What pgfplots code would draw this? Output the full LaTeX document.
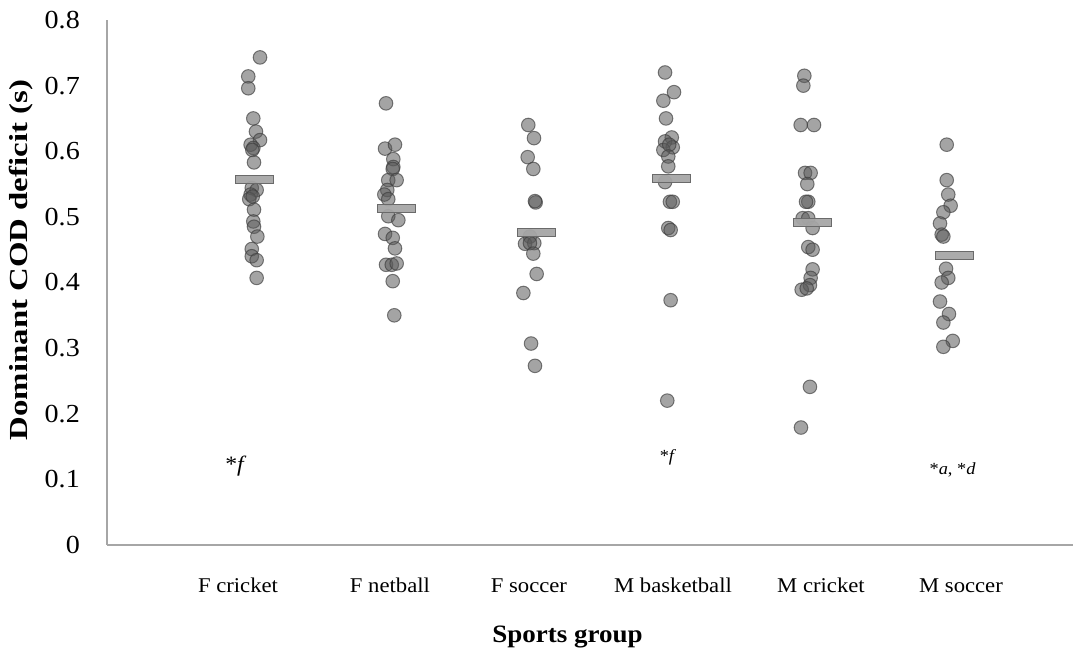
\documentclass[border=0pt]{standalone}
\usepackage{pgfplots}
\pgfplotsset{compat=1.18}
\usepackage{graphicx}
\usepackage{fontspec}
\setmainfont{Liberation Serif}[FakeStretch=1.08]
\definecolor{axgray}{HTML}{A6A6A6}
\definecolor{ptfill}{HTML}{5A5A5A}
\definecolor{ptdraw}{HTML}{3C3C3C}
\definecolor{barfill}{HTML}{A6A6A6}
\definecolor{bardraw}{HTML}{6A6A6A}
\pgfdeclareplotmark{meanbar}{%
  \pgfpathrectangle{\pgfpoint{-19bp}{-4bp}}{\pgfpoint{38bp}{8bp}}%
  \pgfusepathqfillstroke}
\begin{document}
\begin{tikzpicture}
\path[use as bounding box] (0,0) rectangle (1073bp,658bp);
\begin{axis}[
  at={(107bp,113bp)}, anchor=south west,
  width=966bp, height=525bp, scale only axis,
  xmin=-0.05, xmax=6.85, ymin=0, ymax=0.8,
  axis x line=bottom, axis y line=left,
  axis line style={axgray, line width=1.2bp, -},
  clip=false,
  xtick={0.886,1.971,2.964,3.993,5.05,6.05},
  xticklabels={F cricket,F netball,F soccer,M basketball,M cricket,M soccer},
  ytick={0,0.1,...,0.8},
  yticklabels={0,0.1,0.2,0.3,0.4,0.5,0.6,0.7,0.8},
  major tick length=0pt,
  xticklabel style={font=\fontsize{21bp}{24bp}\selectfont, anchor=base, yshift=-47bp, inner sep=0pt},
  yticklabel style={font=\fontsize{26bp}{30bp}\selectfont, anchor=east, xshift=-27bp, inner sep=0pt},
  /pgf/number format/assume math mode=true,
]
% individual points
\addplot[only marks, mark=*, mark size=6.8bp,
  mark options={fill=ptfill, fill opacity=0.55, draw=ptdraw, draw opacity=0.65, line width=1bp}]
  table[row sep=\\] {
x y\\
1.043 0.743\\ 0.959 0.714\\ 0.959 0.696\\ 0.995 0.650\\ 1.014 0.630\\ 1.043 0.617\\
0.976 0.610\\ 0.995 0.605\\ 0.988 0.602\\ 1.000 0.583\\ 0.984 0.544\\ 1.019 0.541\\
0.976 0.534\\ 0.966 0.527\\ 0.991 0.531\\ 1.000 0.511\\ 0.995 0.493\\ 1.000 0.485\\
1.024 0.470\\ 0.984 0.451\\ 0.984 0.440\\ 1.019 0.434\\ 1.019 0.407\\
1.943 0.673\\ 1.936 0.604\\ 2.007 0.610\\ 1.995 0.588\\ 1.995 0.576\\ 1.991 0.573\\
1.959 0.556\\ 2.019 0.556\\ 1.952 0.541\\ 1.931 0.534\\ 1.959 0.527\\ 1.959 0.501\\
2.031 0.495\\ 1.936 0.474\\ 1.991 0.468\\ 2.007 0.452\\ 1.943 0.427\\ 1.984 0.427\\
2.019 0.429\\ 1.991 0.402\\ 2.002 0.350\\
2.959 0.640\\ 3.000 0.620\\ 2.955 0.591\\ 2.995 0.573\\ 3.012 0.522\\ 3.007 0.524\\
2.971 0.470\\ 2.936 0.459\\ 3.002 0.460\\ 2.971 0.460\\ 2.995 0.444\\ 3.019 0.413\\
2.924 0.384\\ 2.979 0.307\\ 3.007 0.273\\
3.936 0.720\\ 4.000 0.690\\ 3.924 0.677\\ 3.943 0.650\\ 3.984 0.621\\ 3.936 0.615\\
3.991 0.606\\ 3.924 0.602\\ 3.966 0.610\\ 3.959 0.592\\ 3.959 0.577\\ 3.936 0.553\\
3.971 0.523\\ 3.991 0.523\\ 3.959 0.483\\ 3.976 0.480\\ 3.976 0.373\\ 3.952 0.220\\
4.931 0.715\\ 4.924 0.700\\ 4.905 0.640\\ 5.000 0.640\\ 4.936 0.567\\ 4.976 0.567\\
4.952 0.550\\ 4.959 0.523\\ 4.943 0.523\\ 4.919 0.498\\ 4.959 0.498\\ 4.990 0.483\\
4.959 0.454\\ 4.990 0.450\\ 4.990 0.420\\ 4.976 0.407\\ 4.971 0.396\\ 4.912 0.389\\
4.948 0.391\\ 4.971 0.241\\ 4.907 0.179\\
5.948 0.610\\ 5.948 0.556\\ 5.959 0.534\\ 5.976 0.517\\ 5.924 0.507\\ 5.900 0.490\\
5.912 0.473\\ 5.924 0.470\\ 5.943 0.421\\ 5.959 0.407\\ 5.912 0.400\\ 5.900 0.371\\
5.964 0.352\\ 5.924 0.339\\ 5.991 0.311\\ 5.924 0.302\\
};
% group means
\addplot[only marks, mark=meanbar,
  mark options={fill=barfill, draw=bardraw, line width=1bp, fill opacity=0.95}]
  coordinates {(1.00,0.557) (2.02,0.513) (3.02,0.476) (3.98,0.559) (4.99,0.491) (6.00,0.441)};
% significance notes
\node[font=\fontsize{22bp}{26bp}\selectfont] at (axis cs:0.871,0.120) {*\textit{f}};
\node[font=\fontsize{17bp}{20bp}\selectfont] at (axis cs:3.957,0.133) {*\textit{f}};
\node[font=\fontsize{17bp}{20bp}\selectfont] at (axis cs:5.99,0.114) {*\textit{a}, *\textit{d}};
\end{axis}
\node[font=\bfseries\fontsize{26bp}{30bp}\selectfont, rotate=90] at (21bp,398bp) {\scalebox{1.17}[1]{Dominant COD deficit (s)}};
\node[font=\bfseries\fontsize{25bp}{30bp}\selectfont] at (567.5bp,21bp) {Sports group};
\end{tikzpicture}
\end{document}
